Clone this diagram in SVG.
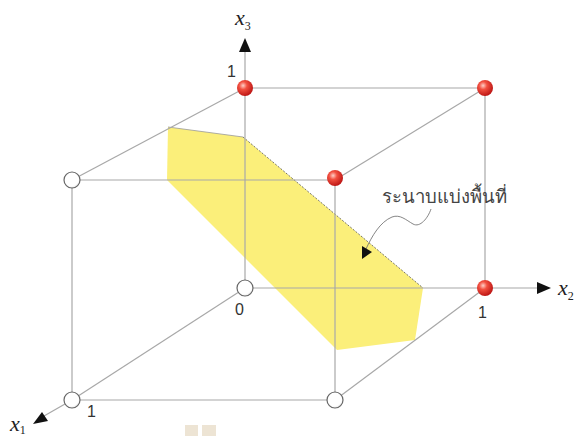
<svg xmlns="http://www.w3.org/2000/svg" width="576" height="436" viewBox="0 0 576 436">
<defs>
<radialGradient id="red" cx="0.38" cy="0.35" r="0.7">
<stop offset="0" stop-color="#ffd0c8"/>
<stop offset="0.35" stop-color="#f25040"/>
<stop offset="1" stop-color="#b81010"/>
</radialGradient>
<radialGradient id="wht" cx="0.4" cy="0.35" r="0.75">
<stop offset="0" stop-color="#ffffff"/>
<stop offset="0.7" stop-color="#ffffff"/>
<stop offset="1" stop-color="#dddddd"/>
</radialGradient>
</defs>
<style>
.e{stroke:#a8a8a8;stroke-width:1.2;fill:none}
.r{fill:url(#red)}
.w{fill:url(#wht);stroke:#666;stroke-width:1.2}
.n{font-family:"Liberation Sans",Arial,sans-serif;font-size:16px;fill:#333}
.ax{font-family:"Liberation Serif","Times New Roman",serif;font-style:italic;font-size:22px;fill:#222}
.sub{font-family:"Liberation Serif","Times New Roman",serif;font-style:normal;font-size:12px;fill:#222}
.th{font-family:"Noto Sans","DejaVu Sans",sans-serif;font-size:18.5px;fill:#444}
</style>
<g id="plane">
<polygon points="168,127 243,137 423,288 415,340 337,350 167,180" fill="#fbef7a"/>
<polyline points="168,127 243,137" fill="none" stroke="#999" stroke-width="0.8"/>
<line x1="243" y1="137" x2="423" y2="288" stroke="#555" stroke-width="0.8" stroke-dasharray="2,1.5"/>
</g>
<g id="connectors">
<line class="e" x1="72" y1="180" x2="335" y2="180"/>
<line class="e" x1="72" y1="400" x2="335" y2="400"/>
<line class="e" x1="72" y1="180" x2="72" y2="400"/>
<line class="e" x1="335" y1="180" x2="335" y2="400"/>
<line class="e" x1="245" y1="52" x2="245" y2="288"/>
<line class="e" x1="245" y1="88" x2="485" y2="88"/>
<line class="e" x1="245" y1="288" x2="540" y2="288"/>
<line class="e" x1="485" y1="88" x2="485" y2="288"/>
<line class="e" x1="72" y1="180" x2="245" y2="88"/>
<line class="e" x1="335" y1="180" x2="485" y2="88"/>
<line class="e" x1="72" y1="400" x2="245" y2="288"/>
<line class="e" x1="335" y1="400" x2="485" y2="288"/>
<line class="e" x1="72" y1="400" x2="44" y2="416"/>
<polygon points="245,38 239,52 251,52" fill="#111"/>
<polygon points="551,288 537,282 537,294" fill="#111"/>
<polygon points="33,424 42,412 48,421" fill="#111"/>
<path d="M431,209 C428,218 420,228 413,224 C406,220 400,214 392,217 C380,222 372,236 366,249" fill="none" stroke="#666" stroke-width="0.8"/>
<polygon points="362,259 362,246 372,252" fill="#111"/>
</g>
<g id="n-origin"><circle class="w" cx="245" cy="288" r="8"/><text class="n" x="235" y="315">0</text></g>
<g id="n-x3"><circle class="r" cx="245" cy="88" r="8"/><text class="n" x="227" y="77">1</text></g>
<g id="n-x2"><circle class="r" cx="485" cy="288" r="8"/><text class="n" x="478" y="318">1</text></g>
<g id="n-011"><circle class="r" cx="485" cy="88" r="8"/></g>
<g id="n-101"><circle class="w" cx="72" cy="180" r="8"/></g>
<g id="n-111"><circle class="r" cx="335" cy="178" r="8"/></g>
<g id="n-110"><circle class="w" cx="335" cy="400" r="8"/></g>
<g id="n-x1"><circle class="w" cx="72" cy="400" r="8"/><text class="n" x="87" y="417">1</text></g>
<g id="labels">
<text class="ax" x="235" y="25">x<tspan class="sub" dy="5">3</tspan></text>
<text class="ax" x="558" y="295">x<tspan class="sub" dy="5">2</tspan></text>
<text class="ax" x="10" y="431">x<tspan class="sub" dy="3">1</tspan></text>
<text class="th" x="382" y="203">ระนาบแบ่งพื้นที่</text>
</g>
<rect x="185" y="425" width="13" height="11" fill="#ede4d4"/>
<rect x="202" y="425" width="14" height="11" fill="#ede4d4"/>
</svg>
